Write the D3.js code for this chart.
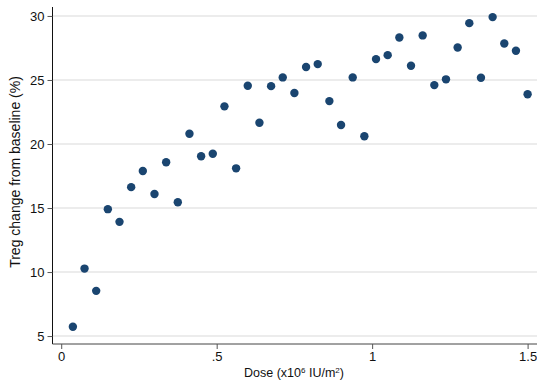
<!doctype html>
<html>
<head>
<meta charset="utf-8">
<title>Treg change vs dose</title>
<style>
*{margin:0;padding:0;}
body{background:white;}
svg text{font-family:"Liberation Sans",Arial,sans-serif;}
</style>
</head>
<body>
<script src="https://cdn.jsdelivr.net/npm/d3@7"></script>
<script>
// dose (x10^6 IU/m2)
var doses = [0.0375,0.075,0.1125,0.15,0.1875,0.225,0.2625,0.3,0.3375,0.375,
             0.4125,0.45,0.4875,0.525,0.5625,0.6,0.6375,0.675,0.7125,0.75,
             0.7875,0.825,0.8625,0.9,0.9375,0.975,1.0125,1.05,1.0875,1.125,
             1.1625,1.2,1.2375,1.275,1.3125,1.35,1.3875,1.425,1.4625,1.5];
// Treg change from baseline (%)
var tregChange = [5.73,10.27,8.53,14.91,13.92,16.63,17.89,16.1,18.57,15.45,
                  20.8,19.04,19.24,22.94,18.1,24.55,21.66,24.52,25.2,23.98,
                  26.01,26.24,23.35,21.48,25.2,20.6,26.63,26.94,28.32,26.11,
                  28.48,24.6,25.05,27.54,29.44,25.17,29.91,27.85,27.28,23.88];
var xTicks = [0,0.5,1,1.5];
var xTickLabels = ["0",".5","1","1.5"];
var yTicks = [5,10,15,20,25,30];

var W = 537, H = 381;
var m = {left:52.5, right:1, top:7, bottom:37};

var svg = d3.select("body").append("svg")
  .attr("width",W).attr("height",H);

var x = d3.scaleLinear().domain([-0.028,1.527]).range([m.left,W-m.right]);
var y = d3.scaleLinear().domain([4.38,30.7]).range([H-m.bottom,m.top]);

// grid
svg.append("g").selectAll("line").data(yTicks).enter().append("line")
  .attr("x1",m.left).attr("x2",W)
  .attr("y1",function(d){return y(d);}).attr("y2",function(d){return y(d);})
  .attr("stroke","#e6e6e6").attr("stroke-width",1.5);

// y axis
var gy = svg.append("g").attr("transform","translate("+m.left+",0)")
  .call(d3.axisLeft(y).tickValues(yTicks).tickSize(5).tickPadding(3));
gy.select(".domain").attr("stroke","#111").attr("d","M0,"+m.top+"V"+(H-m.bottom));
gy.selectAll(".tick line").attr("stroke","#555");
gy.selectAll("text").attr("font-size","13px").attr("fill","#111");

// x axis
var gx = svg.append("g").attr("transform","translate(0,"+(H-m.bottom)+")")
  .call(d3.axisBottom(x).tickValues(xTicks).tickFormat(function(d,i){return xTickLabels[i];}).tickSize(5).tickPadding(3));
gx.select(".domain").attr("stroke","#444").attr("d","M"+m.left+",0H"+W);
gx.selectAll(".tick line").attr("stroke","#555");
gx.selectAll("text").attr("font-size","13px").attr("fill","#111");

// points
svg.append("g").selectAll("circle").data(doses).enter().append("circle")
  .attr("cx",function(d){return x(d);})
  .attr("cy",function(d,i){return y(tregChange[i]);})
  .attr("r",4.2)
  .attr("fill","#1a4570");

// axis titles
var xl = svg.append("text").attr("x",294).attr("y",377)
  .attr("text-anchor","middle").attr("font-size","12.5px").attr("fill","#111");
xl.append("tspan").text("Dose (x10");
xl.append("tspan").attr("font-size","8px").attr("dy","-4").text("6");
xl.append("tspan").attr("dy","4").text(" IU/m");
xl.append("tspan").attr("font-size","8px").attr("dy","-4").text("2");
xl.append("tspan").attr("dy","4").text(")");

svg.append("text")
  .attr("transform","translate(20,172) rotate(-90)")
  .attr("text-anchor","middle").attr("font-size","14px").attr("fill","#111")
  .text("Treg change from baseline (%)");
</script>
</body>
</html>
